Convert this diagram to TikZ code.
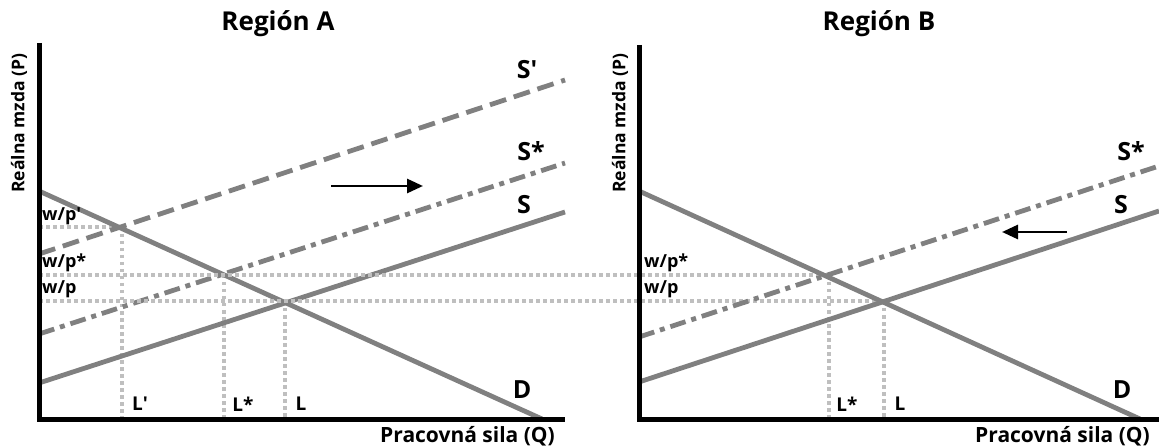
\documentclass[tikz,border=0pt]{standalone}
\usepackage{fontspec}
\setmainfont{Open Sans}
\usetikzlibrary{arrows.meta}
\definecolor{curvegray}{HTML}{808080}
\definecolor{guidegray}{HTML}{BFBFBF}
\begin{document}
\begin{tikzpicture}[x=1pt,y=-1pt]
\tikzset{
  axis/.style={line width=5pt, black, line join=miter},
  curve/.style={line width=4.8pt, draw=curvegray},
  dashedcurve/.style={curve, dash pattern=on 17pt off 8pt},
  dashdotcurve/.style={curve, dash pattern=on 16pt off 6pt on 5pt off 6pt},
  guide/.style={line width=3.2pt, draw=guidegray, dash pattern=on 3.5pt off 3.5pt},
  shiftarrow/.style={line width=2.8pt, black, -{Triangle[length=16pt,width=14pt]}},
  title/.style={font=\bfseries\fontsize{26}{26}\selectfont, inner sep=0pt},
  ylab/.style={font=\bfseries\fontsize{17.5}{17.5}\selectfont, inner sep=0pt, rotate=90},
  xlab/.style={font=\bfseries\fontsize{21}{21}\selectfont, inner sep=0pt, anchor=east},
  curvelab/.style={font=\bfseries\fontsize{25}{25}\selectfont, inner sep=0pt},
  qlab/.style={font=\bfseries\fontsize{19}{19}\selectfont, inner sep=0pt},
  plab/.style={font=\bfseries\fontsize{18}{18}\selectfont, inner sep=0pt, anchor=west},
}
\useasboundingbox (0,0) rectangle (1159,446);

% ---------- Region A ----------
\node[title] (titleA) at (278,24) {Región A};
\node[ylab] (ylabA) at (19,123) {Reálna mzda (P)};
\node[xlab] (xlabA) at (555,436) {Pracovná sila (Q)};

\coordinate (A-top) at (39,43);
\coordinate (A-org) at (39,419);
\coordinate (A-xend) at (565,419);

% intersections
\coordinate (A-e1) at (122,227);
\coordinate (A-e2) at (224,275);
\coordinate (A-e0) at (285,301);
\coordinate (A-e1b) at (122,419);
\coordinate (A-e2b) at (224,419);
\coordinate (A-e0b) at (285,419);
\coordinate (A-p1) at (39,227);
\coordinate (A-p2) at (39,275);
\coordinate (A-p0) at (39,301);

% guides
\draw[guide] (A-p1) -- (A-e1);
\draw[guide] (A-e1) -- (A-e1b);
\draw[guide] (A-e2) -- (A-e2b);
\draw[guide] (A-e0) -- (A-e0b);

% curves
\coordinate (AD1) at (39,191);
\coordinate (AD2) at (542,419);
\coordinate (AS1) at (39,383);
\coordinate (AS2) at (565,212);
\coordinate (ASs1) at (39,334);
\coordinate (ASs2) at (565,163);
\coordinate (ASp1) at (39,254);
\coordinate (ASp2) at (565,80);
\draw[curve] (AD1) -- (AD2);
\draw[curve] (AS1) -- (AS2);
\draw[dashdotcurve] (ASs1) -- (ASs2);
\draw[dashedcurve] (ASp1) -- (ASp2);

% ---------- Region B ----------
\node[title] (titleB) at (879,24) {Región B};
\node[ylab] (ylabB) at (620,123) {Reálna mzda (P)};
\node[xlab] (xlabB) at (1150,436) {Pracovná sila (Q)};

\coordinate (B-top) at (639,45);
\coordinate (B-org) at (639,419);
\coordinate (B-xend) at (1159,419);

\coordinate (B-e2) at (829,275);
\coordinate (B-e0) at (884,301);
\coordinate (B-e2b) at (829,419);
\coordinate (B-e0b) at (884,419);

% cross-panel guides
\draw[guide] (A-p2) -- (B-e2);
\draw[guide] (A-p0) -- (B-e0);
\draw[guide] (B-e2) -- (B-e2b);
\draw[guide] (B-e0) -- (B-e0b);

\coordinate (BD1) at (639,191);
\coordinate (BD2) at (1140,419);
\coordinate (BS1) at (639,382);
\coordinate (BS2) at (1159,211);
\coordinate (BSs1) at (639,337);
\coordinate (BSs2) at (1159,166);
\draw[curve] (BD1) -- (BD2);
\draw[curve] (BS1) -- (BS2);
\draw[dashdotcurve] (BSs1) -- (BSs2);

% axes
\draw[axis] (A-top) -- (A-org) -- (A-xend);
\draw[axis] (B-top) -- (B-org) -- (B-xend);

% arrows
\coordinate (A-arr1) at (331,186);
\coordinate (A-arr2) at (423,186);
\draw[shiftarrow] (A-arr1) -- (A-arr2);
\coordinate (B-arr1) at (1067,232);
\coordinate (B-arr2) at (1002,232);
\draw[shiftarrow] (B-arr1) -- (B-arr2);

% labels A
\node[curvelab] (lSpA) at (527,70) {S\textquotesingle};
\node[curvelab] (lSsA) at (531,151) {S*};
\node[curvelab] (lSA) at (524,205) {S};
\node[curvelab] (lDA) at (522,390) {D};
\node[plab] (wpp) at (42,216) {w/p\textquotesingle};
\node[plab] (wpsA) at (42,263) {w/p*};
\node[plab] (wpA) at (42,289) {w/p};
\node[qlab] (Lp) at (140,404) {L\textquotesingle};
\node[qlab] (LsA) at (243,404) {L*};
\node[qlab] (LA) at (301,404) {L};

% labels B
\node[curvelab] (lSsB) at (1131,151) {S*};
\node[curvelab] (lSB) at (1121,205) {S};
\node[curvelab] (lDB) at (1122,390) {D};
\node[plab] (wpsB) at (644,263) {w/p*};
\node[plab] (wpB) at (644,289) {w/p};
\node[qlab] (LsB) at (847,404) {L*};
\node[qlab] (LB) at (900,404) {L};
\end{tikzpicture}
\end{document}
